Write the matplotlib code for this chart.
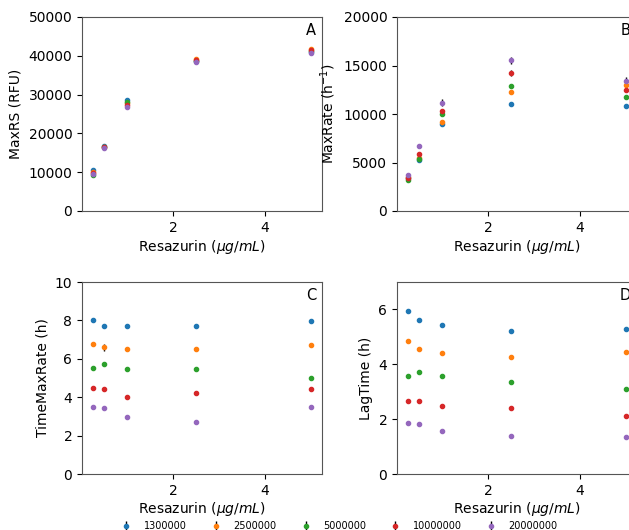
import numpy as np
import matplotlib
matplotlib.use("Agg")
import matplotlib.pyplot as plt

plt.rcParams['font.size'] = 10

# resazurin concentrations (ug/mL)
resazurin = [0.25, 0.5, 1.0, 2.5, 5.0]
# inoculum sizes (cells)
inocula = ['1300000', '2500000', '5000000', '10000000', '20000000']
colors = ['#1f77b4', '#ff7f0e', '#2ca02c', '#d62728', '#9467bd']

# one row per inoculum, one column per resazurin concentration
max_rs = [
    [10500, 16700, 28700, 38600, 41000],
    [10100, 16500, 27800, 39200, 41800],
    [9300, 16600, 28200, 38700, 41200],
    [9800, 16400, 27400, 38900, 41400],
    [9600, 16300, 26900, 38400, 40700],
]
max_rs_err = [
    [300, 200, 300, 200, 200],
    [200, 200, 200, 200, 200],
    [200, 200, 200, 200, 200],
    [200, 200, 200, 200, 200],
    [200, 200, 300, 200, 200],
]

max_rate = [
    [3400, 5300, 9000, 11030, 10860],
    [3500, 5450, 9170, 12280, 13030],
    [3150, 5400, 10000, 12930, 11790],
    [3450, 5900, 10340, 14240, 12520],
    [3700, 6690, 11170, 15550, 13380],
]
max_rate_err = [
    [100, 100, 150, 100, 100],
    [100, 100, 200, 150, 150],
    [100, 100, 150, 200, 150],
    [100, 150, 200, 300, 200],
    [150, 150, 380, 350, 420],
]

time_max_rate = [
    [8.03, 7.73, 7.72, 7.70, 7.98],
    [6.76, 6.59, 6.49, 6.49, 6.70],
    [5.50, 5.71, 5.47, 5.48, 5.02],
    [4.48, 4.45, 4.01, 4.24, 4.45],
    [3.51, 3.46, 2.98, 2.73, 3.51],
]
time_max_rate_err = [
    [0.05, 0.05, 0.05, 0.05, 0.05],
    [0.05, 0.16, 0.05, 0.05, 0.05],
    [0.05, 0.08, 0.05, 0.05, 0.05],
    [0.05, 0.05, 0.05, 0.05, 0.05],
    [0.05, 0.05, 0.05, 0.05, 0.05],
]

lag_time = [
    [5.93, 5.63, 5.45, 5.22, 5.27],
    [4.85, 4.57, 4.41, 4.28, 4.44],
    [3.57, 3.71, 3.56, 3.35, 3.10],
    [2.67, 2.67, 2.49, 2.42, 2.13],
    [1.86, 1.84, 1.57, 1.40, 1.34],
]
lag_time_err = [
    [0.04, 0.04, 0.04, 0.04, 0.04],
    [0.04, 0.04, 0.04, 0.04, 0.04],
    [0.04, 0.04, 0.04, 0.04, 0.04],
    [0.04, 0.04, 0.04, 0.04, 0.04],
    [0.04, 0.04, 0.04, 0.04, 0.04],
]

W, H = 629, 530
fig = plt.figure(figsize=(W / 100, H / 100), dpi=100)


def px_axes(left, top, width, height):
    return fig.add_axes([left / W, (H - top - height) / H, width / W, height / H])


panels = [
    (px_axes(82, 17, 240, 194), max_rs, max_rs_err, 'MaxRS (RFU)', (0, 50000), 'A'),
    (px_axes(397, 17, 240, 194), max_rate, max_rate_err, 'MaxRate (h$^{-1}$)', (0, 20000), 'B'),
    (px_axes(82, 282, 240, 192), time_max_rate, time_max_rate_err, 'TimeMaxRate (h)', (0, 10), 'C'),
    (px_axes(397, 282, 240, 192), lag_time, lag_time_err, 'LagTime (h)', (0, 7), 'D'),
]

handles = []
for ax, vals, errs, ylabel, ylim, letter in panels:
    hs = []
    for i in range(len(inocula)):
        h = ax.errorbar(resazurin, vals[i], yerr=errs[i], fmt='.', color=colors[i],
                        ecolor='k', elinewidth=1, markersize=6, label=inocula[i])
        hs.append(h)
    handles = hs
    ax.set_ylim(*ylim)
    ax.set_xticks([2, 4])
    ax.set_ylabel(ylabel)
    ax.set_xlabel('Resazurin ($\\mu g/mL$)', labelpad=2)
    for s in ax.spines.values():
        s.set_color('#555555')
    ax.text(0.975, 0.93, letter, transform=ax.transAxes, ha='right', va='center', fontsize=10.5)

fig.legend(handles, inocula, loc='center', bbox_to_anchor=(337 / W, 1 - 526 / H),
           ncol=5, frameon=False, fontsize=7)

fig.savefig('out.png', dpi=100)
